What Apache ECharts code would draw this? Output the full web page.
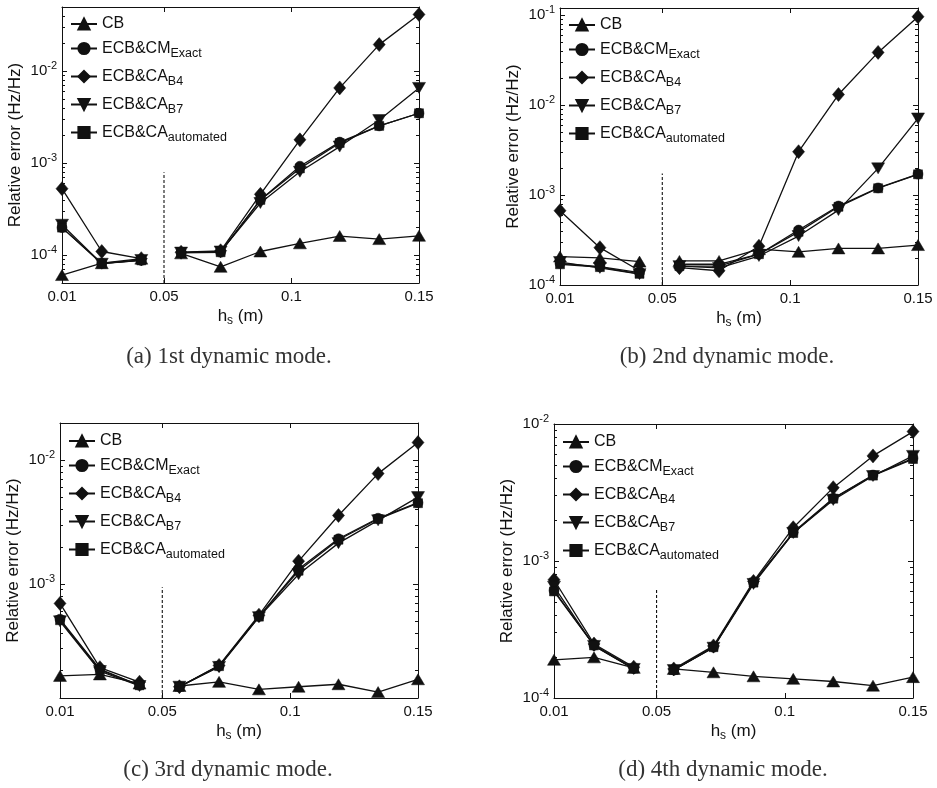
<!DOCTYPE html>
<html>
<head>
<meta charset="utf-8">
<script src="https://cdn.jsdelivr.net/npm/echarts@6/dist/echarts.min.js"></script>
<style>
html, body { margin: 0; padding: 0; background: #fff; }
#chart { width: 937px; height: 788px; }
</style>
</head>
<body>
<div id="chart"></div>
<script>
// step size h_s (m), same for all four modes
var hs = [0.01, 0.0256, 0.0411, 0.0567, 0.0722, 0.0878, 0.1033, 0.1189, 0.1344, 0.15];
var xTicks = [0.01, 0.05, 0.1, 0.15];

// (a) 1st dynamic mode
var cb1    = [6.1e-5, 8.2e-5, 9.2e-5, 1.05e-4, 7.5e-5, 1.1e-4, 1.35e-4, 1.62e-4, 1.5e-4, 1.63e-4];
var exact1 = [2.0e-4, 8.2e-5, 8.8e-5, 1.07e-4, 1.08e-4, 4.0e-4, 9.3e-4, 1.7e-3, 2.55e-3, 3.5e-3];
var b4_1   = [5.3e-4, 1.1e-4, 9.2e-5, 1.08e-4, 1.12e-4, 4.6e-4, 1.8e-3, 6.6e-3, 1.95e-2, 4.15e-2];
var b7_1   = [2.15e-4, 8.1e-5, 8.9e-5, 1.07e-4, 1.1e-4, 3.7e-4, 8.1e-4, 1.52e-3, 2.95e-3, 6.6e-3];
var auto1  = [2.0e-4, 8.1e-5, 8.8e-5, 1.07e-4, 1.08e-4, 4.0e-4, 8.8e-4, 1.66e-3, 2.55e-3, 3.5e-3];

// (b) 2nd dynamic mode
var cb2    = [2.07e-4, 2.0e-4, 1.82e-4, 1.85e-4, 1.85e-4, 2.5e-4, 2.34e-4, 2.55e-4, 2.55e-4, 2.78e-4];
var exact2 = [1.74e-4, 1.6e-4, 1.37e-4, 1.7e-4, 1.7e-4, 2.2e-4, 4.08e-4, 7.55e-4, 1.2e-3, 1.71e-3];
var b4_2   = [6.7e-4, 2.6e-4, 1.44e-4, 1.56e-4, 1.44e-4, 2.7e-4, 3.03e-3, 1.31e-2, 3.85e-2, 9.6e-2];
var b7_2   = [1.8e-4, 1.55e-4, 1.32e-4, 1.62e-4, 1.55e-4, 2.1e-4, 3.5e-4, 6.8e-4, 1.98e-3, 7.1e-3];
var auto2  = [1.7e-4, 1.58e-4, 1.33e-4, 1.62e-4, 1.62e-4, 2.2e-4, 3.9e-4, 7.4e-4, 1.19e-3, 1.7e-3];

// (c) 3rd dynamic mode
var cb3    = [1.81e-4, 1.86e-4, 1.57e-4, 1.5e-4, 1.62e-4, 1.41e-4, 1.48e-4, 1.55e-4, 1.34e-4, 1.7e-4];
var exact3 = [5.2e-4, 2.05e-4, 1.52e-4, 1.48e-4, 2.18e-4, 5.47e-4, 1.32e-3, 2.32e-3, 3.4e-3, 4.54e-3];
var b4_3   = [6.97e-4, 2.11e-4, 1.61e-4, 1.48e-4, 2.2e-4, 5.6e-4, 1.53e-3, 3.58e-3, 7.8e-3, 1.39e-2];
var b7_3   = [5.0e-4, 1.98e-4, 1.5e-4, 1.48e-4, 2.14e-4, 5.4e-4, 1.2e-3, 2.14e-3, 3.27e-3, 5.04e-3];
var auto3  = [5.1e-4, 2.02e-4, 1.52e-4, 1.48e-4, 2.17e-4, 5.45e-4, 1.28e-3, 2.28e-3, 3.35e-3, 4.5e-3];

// (d) 4th dynamic mode
var cb4    = [1.9e-4, 1.98e-4, 1.66e-4, 1.63e-4, 1.54e-4, 1.44e-4, 1.38e-4, 1.32e-4, 1.23e-4, 1.42e-4];
var exact4 = [6.1e-4, 2.42e-4, 1.64e-4, 1.6e-4, 2.35e-4, 6.97e-4, 1.62e-3, 2.87e-3, 4.24e-3, 5.62e-3];
var b4_4   = [7.3e-4, 2.48e-4, 1.68e-4, 1.63e-4, 2.4e-4, 7.1e-4, 1.75e-3, 3.43e-3, 5.85e-3, 8.8e-3];
var b7_4   = [6.5e-4, 2.4e-4, 1.63e-4, 1.6e-4, 2.33e-4, 6.8e-4, 1.6e-3, 2.79e-3, 4.17e-3, 5.85e-3];
var auto4  = [6.0e-4, 2.42e-4, 1.64e-4, 1.6e-4, 2.35e-4, 6.95e-4, 1.6e-3, 2.85e-3, 4.2e-3, 5.55e-3];

// y limits and dotted separator at h_s = 0.05
var yMins = [5e-5, 1e-4, 1.2e-4, 1e-4];
var yMaxs = [5e-2, 1.2e-1, 2e-2, 1e-2];
var breakX = 0.05;
var breakTops = [8e-4, 1.74e-3, 9.4e-4, 6.2e-4];

var captions = ['(a) 1st dynamic mode.', '(b) 2nd dynamic mode.', '(c) 3rd dynamic mode.', '(d) 4th dynamic mode.'];
var seriesNames = ['CB', 'ECB&CM Exact', 'ECB&CA B4', 'ECB&CA B7', 'ECB&CA automated'];
var legendLabels = {
    'CB': '{n|CB}',
    'ECB&CM Exact': '{n|ECB&CM}{s|Exact}',
    'ECB&CA B4': '{n|ECB&CA}{s|B4}',
    'ECB&CA B7': '{n|ECB&CA}{s|B7}',
    'ECB&CA automated': '{n|ECB&CA}{s|automated}'
};

var modeData = [
    [cb1, exact1, b4_1, b7_1, auto1],
    [cb2, exact2, b4_2, b7_2, auto2],
    [cb3, exact3, b4_3, b7_3, auto3],
    [cb4, exact4, b4_4, b7_4, auto4]
];

// marker look per series
var symbols = ['triangle', 'circle', 'diamond', 'triangle', 'rect'];
var symbolRot = [0, 0, 0, 180, 0];
var symbolSizes = [[13, 11], 10, [12, 14], [13, 11], 9];

// plot boxes (px)
var boxes = [
    {left: 62, top: 7, width: 357, height: 276},
    {left: 560, top: 8, width: 358, height: 277},
    {left: 60, top: 423, width: 358, height: 275},
    {left: 554, top: 424, width: 359, height: 274}
];
var legendTops = [16, 17, 433, 434];
var captionPos = [[229, 357], [727, 357], [228, 770], [723, 770]];

var FONT = 'Liberation Sans, Arial, sans-serif';
var INK = '#111';

function majorTicks(lo, hi) {
    var out = [];
    for (var e = -6; e <= 1; e++) {
        var v = Math.pow(10, e);
        if (v >= lo * 0.999 && v <= hi * 1.001) out.push(v);
    }
    return out;
}
function minorTicks(lo, hi) {
    var out = [];
    for (var e = -6; e <= 1; e++) {
        for (var k = 2; k <= 9; k++) {
            var v = k * Math.pow(10, e);
            if (v >= lo * 0.999 && v <= hi * 1.001) out.push(v);
        }
    }
    return out;
}
function powLabel(v) {
    var e = Math.round(Math.log(v) / Math.LN10);
    return '{b|10}{s|' + e + '}';
}

var grids = [], xAxes = [], yAxes = [], legends = [], series = [], graphics = [];

boxes.forEach(function (box, p) {
    grids.push({
        left: box.left, top: box.top, width: box.width, height: box.height,
        containLabel: false, outerBoundsMode: 'none'
    });

    var xBase = {
        type: 'value', gridIndex: p, min: 0.01, max: 0.15,
        axisLine: {lineStyle: {color: INK, width: 1}},
        axisTick: {inside: true, length: 5, customValues: xTicks, lineStyle: {color: INK}},
        splitLine: {show: false}
    };
    xAxes.push(Object.assign({}, xBase, {
        position: 'bottom',
        axisLabel: {customValues: xTicks, margin: 6, color: INK, fontFamily: FONT, fontSize: 15},
        name: '{t|h}{u|s}{t| (m)}',
        nameLocation: 'middle', nameGap: 21,
        nameTextStyle: {
            rich: {
                t: {fontFamily: FONT, fontSize: 17, color: INK, lineHeight: 18},
                u: {fontFamily: FONT, fontSize: 12, color: INK, lineHeight: 12, padding: [10, 0, 0, 0]}
            }
        }
    }));
    xAxes.push(Object.assign({}, xBase, {position: 'top', axisLabel: {show: false}}));

    var lo = yMins[p], hi = yMaxs[p];
    var yBase = {
        type: 'log', logBase: 10, gridIndex: p, min: lo, max: hi,
        splitLine: {show: false}
    };
    yAxes.push(Object.assign({}, yBase, {
        position: 'left',
        axisLine: {lineStyle: {color: INK, width: 1}},
        axisTick: {inside: true, length: 5, customValues: majorTicks(lo, hi), lineStyle: {color: INK}},
        axisLabel: {
            customValues: majorTicks(lo, hi), margin: 5, formatter: powLabel,
            rich: {
                b: {fontFamily: FONT, fontSize: 15, color: INK},
                s: {fontFamily: FONT, fontSize: 11, color: INK, padding: [0, 0, 10, 0]}
            }
        },
        name: 'Relative error (Hz/Hz)',
        nameLocation: 'middle', nameGap: 38,
        nameTextStyle: {fontFamily: FONT, fontSize: 17, color: INK}
    }));
    yAxes.push(Object.assign({}, yBase, {
        position: 'left',
        axisLine: {show: false},
        axisTick: {inside: true, length: 3, customValues: minorTicks(lo, hi), lineStyle: {color: INK}},
        axisLabel: {show: false}
    }));
    yAxes.push(Object.assign({}, yBase, {
        position: 'right',
        axisLine: {lineStyle: {color: INK, width: 1}},
        axisTick: {inside: true, length: 5, customValues: majorTicks(lo, hi), lineStyle: {color: INK}},
        axisLabel: {show: false}
    }));
    yAxes.push(Object.assign({}, yBase, {
        position: 'right',
        axisLine: {show: false},
        axisTick: {inside: true, length: 3, customValues: minorTicks(lo, hi), lineStyle: {color: INK}},
        axisLabel: {show: false}
    }));

    modeData[p].forEach(function (vals, s) {
        var pts = [];
        for (var i = 0; i < hs.length; i++) {
            pts.push([hs[i], vals[i]]);
            if (i === 2) pts.push([breakX, null]); // gap across the separator
        }
        series.push({
            type: 'line', name: seriesNames[s],
            xAxisIndex: 2 * p, yAxisIndex: 4 * p,
            data: pts, connectNulls: false,
            symbol: symbols[s], symbolRotate: symbolRot[s], symbolSize: symbolSizes[s],
            showSymbol: true,
            lineStyle: {color: INK, width: 1.3},
            itemStyle: {color: INK, borderColor: INK, borderWidth: 0.5},
            emphasis: {disabled: true}
        });
    });

    series.push({
        type: 'line', name: 'separator',
        xAxisIndex: 2 * p, yAxisIndex: 4 * p,
        data: [[breakX, lo], [breakX, breakTops[p]]],
        symbol: 'none',
        lineStyle: {color: INK, width: 1.1, type: [3, 2]},
        emphasis: {disabled: true}
    });

    legends.push({
        data: seriesNames, orient: 'vertical',
        left: box.left + 8, top: legendTops[p], padding: 0,
        itemWidth: 26, itemHeight: 14, itemGap: 5,
        selectedMode: false,
        formatter: function (name) { return legendLabels[name]; },
        textStyle: {
            rich: {
                n: {fontFamily: FONT, fontSize: 16, color: INK, lineHeight: 18},
                s: {fontFamily: FONT, fontSize: 12.5, color: INK, lineHeight: 12, padding: [10, 0, 0, 0]}
            }
        }
    });

    graphics.push({
        type: 'text', x: captionPos[p][0], y: captionPos[p][1],
        style: {
            text: captions[p], textAlign: 'center', textVerticalAlign: 'middle',
            font: '23px "Liberation Serif", serif', fill: '#333'
        }
    });
});

var chart = echarts.init(document.getElementById('chart'));
chart.setOption({
    backgroundColor: '#fff',
    animation: false,
    grid: grids,
    xAxis: xAxes,
    yAxis: yAxes,
    legend: legends,
    series: series,
    graphic: graphics
});
</script>
</body>
</html>
